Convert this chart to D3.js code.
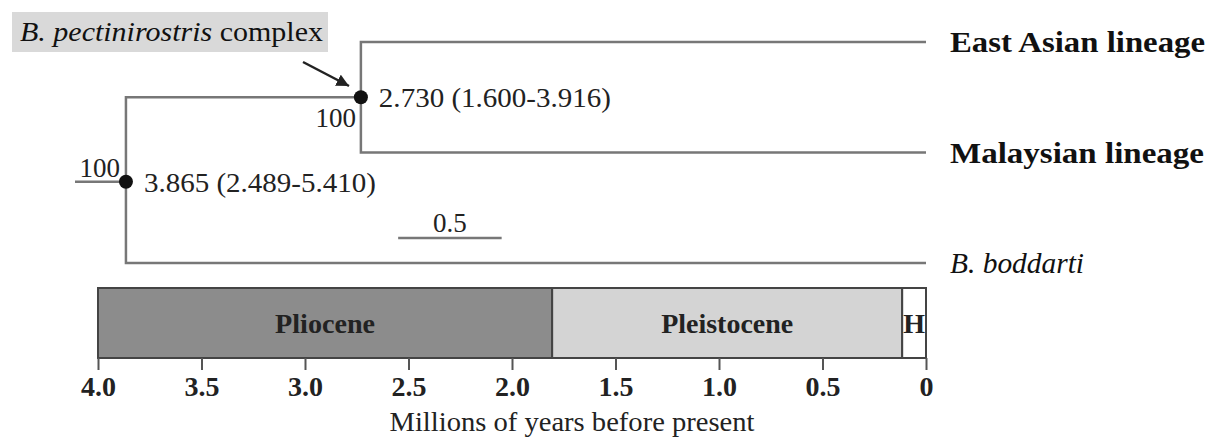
<!DOCTYPE html>
<meta charset="utf-8">
<style>
body { margin: 0; background: #fff; }
svg { display: block; font-family: "Liberation Serif", "DejaVu Serif", serif; }
.branch { fill: none; stroke: #777; stroke-width: 2.5px; }
.tick-lbl { font-size: 28px; font-weight: bold; fill: #222; }
</style>
<body>
<div id="tree"></div>
<script src="https://d3js.org/d3.v7.min.js"></script>
<script>
// time in millions of years before present
var nodeNames = ["root", "pect"];
var nodeAges = [3.865, 2.730];
var nodeLabels = ["3.865 (2.489-5.410)", "2.730 (1.600-3.916)"];
var nodeSupport = ["100", "100"];
var tipNames = ["East Asian lineage", "Malaysian lineage", "B. boddarti"];
var tipParent = ["pect", "pect", "root"];
var tipRows = [0, 2, 4.0];
var epochNames = ["Pliocene", "Pleistocene", "H"];
var epochStart = [4.0, 1.806, 0.115];
var epochEnd = [1.806, 0.115, 0];
var epochFill = ["#8c8c8c", "#d4d4d4", "#ffffff"];
var tickValues = [4.0, 3.5, 3.0, 2.5, 2.0, 1.5, 1.0, 0.5, 0];
var tickLabels = ["4.0", "3.5", "3.0", "2.5", "2.0", "1.5", "1.0", "0.5", "0"];

var W = 1223, H = 438;
var svg = d3.select("#tree").append("svg").attr("width", W).attr("height", H);

var x = d3.scaleLinear().domain([4, 0]).range([98, 926]);
var y = d3.scaleLinear().domain([0, 4]).range([42, 263]);

// the scan is a bit stretched sideways, so long labels get a fixed width
var tipWidth = [255, 254, 134];
var epochWidth = [100, 132, null];

// node rows: pect in the middle of its two tips, root between pect and boddarti
var nodeRow = { pect: 1, root: 2.53 };
var nodeAge = {};
nodeNames.forEach(function(n, i) { nodeAge[n] = nodeAges[i]; });

function fit(sel, w) {
    if (w) sel.attr("textLength", w).attr("lengthAdjust", "spacingAndGlyphs");
    return sel;
}

// root stem
svg.append("line").attr("class", "branch")
    .attr("x1", 75).attr("x2", x(nodeAge.root))
    .attr("y1", y(nodeRow.root)).attr("y2", y(nodeRow.root));

// root -> pect
svg.append("path").attr("class", "branch")
    .attr("d", "M" + x(nodeAge.root) + "," + y(nodeRow.root) +
        "V" + y(nodeRow.pect) + "H" + x(nodeAge.pect));

// tips
tipNames.forEach(function(t, i) {
    var p = tipParent[i];
    svg.append("path").attr("class", "branch")
        .attr("d", "M" + x(nodeAge[p]) + "," + y(nodeRow[p]) +
            "V" + y(tipRows[i]) + "H" + x(0));
    var txt = svg.append("text")
        .attr("x", 950).attr("y", y(tipRows[i]) + 10)
        .style("font-size", "29px").style("fill", "#111");
    if (t.indexOf("B.") === 0) {
        txt.style("font-style", "italic").text(t);
    } else {
        txt.style("font-weight", "bold").text(t);
    }
    fit(txt, tipWidth[i]);
});

// nodes
nodeNames.forEach(function(n, i) {
    var cx = x(nodeAges[i]), cy = y(nodeRow[n]);
    svg.append("circle").attr("cx", cx).attr("cy", cy).attr("r", 7).attr("fill", "#111");
    fit(svg.append("text").attr("x", cx + 18).attr("y", cy + 10)
        .style("font-size", "27px").style("fill", "#222").text(nodeLabels[i]), 232);
});
// support values
svg.append("text").attr("x", x(nodeAge.root) - 6).attr("y", y(nodeRow.root) - 5)
    .attr("text-anchor", "end").style("font-size", "27px").style("fill", "#222")
    .text(nodeSupport[0]);
svg.append("text").attr("x", x(nodeAge.pect) - 5).attr("y", y(nodeRow.pect) + 30)
    .attr("text-anchor", "end").style("font-size", "27px").style("fill", "#222")
    .text(nodeSupport[1]);

// clade label
svg.append("rect").attr("x", 12).attr("y", 12).attr("width", 316).attr("height", 40)
    .attr("fill", "#d9d9d9");
var cl = svg.append("text").attr("x", 20).attr("y", 41)
    .style("font-size", "27px").style("fill", "#111");
cl.append("tspan").style("font-style", "italic").text("B. pectinirostris");
cl.append("tspan").text(" complex");
fit(cl, 303);

svg.append("defs").append("marker").attr("id", "ah")
    .attr("viewBox", "0 0 10 10").attr("refX", 10).attr("refY", 5)
    .attr("markerWidth", 5).attr("markerHeight", 5).attr("orient", "auto")
    .append("path").attr("d", "M0,0L10,5L0,10z").attr("fill", "#222");
svg.append("line").attr("x1", 303).attr("y1", 62).attr("x2", 349).attr("y2", 86)
    .attr("stroke", "#222").attr("stroke-width", 2.5).attr("marker-end", "url(#ah)");

// scale bar 0.5 Myr
svg.append("line").attr("class", "branch")
    .attr("x1", x(2.55)).attr("x2", x(2.05)).attr("y1", 238).attr("y2", 238);
svg.append("text").attr("x", (x(2.55) + x(2.05)) / 2).attr("y", 232)
    .attr("text-anchor", "middle").style("font-size", "27px").style("fill", "#222").text("0.5");

// epoch bar
var eb = svg.append("g");
eb.selectAll("rect").data(epochNames).enter().append("rect")
    .attr("x", function(d, i) { return x(epochStart[i]); })
    .attr("width", function(d, i) { return x(epochEnd[i]) - x(epochStart[i]); })
    .attr("y", 288).attr("height", 70)
    .attr("fill", function(d, i) { return epochFill[i]; })
    .attr("stroke", "#444").attr("stroke-width", 2);
eb.selectAll("text").data(epochNames).enter().append("text")
    .attr("x", function(d, i) { return (x(epochStart[i]) + x(epochEnd[i])) / 2; })
    .attr("y", 333).attr("text-anchor", "middle")
    .style("font-size", "28px").style("font-weight", "bold").style("fill", "#222")
    .text(function(d) { return d; })
    .each(function(d, i) { fit(d3.select(this), epochWidth[i]); });

// axis
var axis = d3.axisBottom(x).tickValues(tickValues)
    .tickFormat(function(d, i) { return tickLabels[i]; })
    .tickSize(12).tickPadding(6);
var ag = svg.append("g").attr("transform", "translate(0,358)").call(axis);
ag.attr("font-family", null).attr("font-size", null);
ag.select(".domain").remove();
ag.selectAll(".tick line").attr("stroke", "#555").attr("stroke-width", 2);
ag.selectAll(".tick text").attr("class", "tick-lbl");

fit(svg.append("text").attr("x", 572).attr("y", 431)
    .attr("text-anchor", "middle").style("font-size", "28px").style("fill", "#222")
    .text("Millions of years before present"), 365);
</script>
